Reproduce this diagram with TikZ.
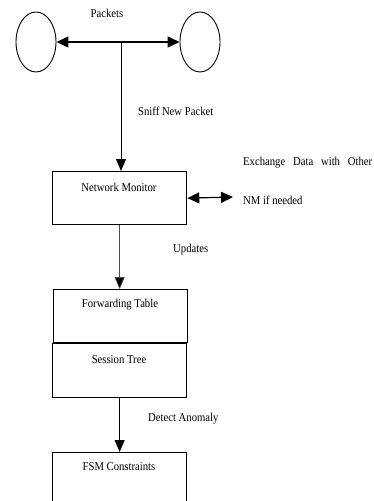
\documentclass[tikz,border=0pt]{standalone}
\usepackage{fontspec}
\setmainfont{Liberation Serif}[FakeStretch=0.89]
\usetikzlibrary{shapes.geometric,arrows.meta}
\begin{document}
\begin{tikzpicture}[x=1pt,y=-1pt,
  every node/.style={font=\fontsize{12}{14}\selectfont, inner sep=0pt},
  endpoint/.style={draw, line width=0.9pt, ellipse, minimum width=40pt, minimum height=60pt},
  blockbox/.style={draw, line width=1.3pt, rectangle, minimum width=134pt, minimum height=53pt, anchor=north west},
  flow/.style={line width=1pt, -{Triangle[length=12pt,width=10pt]}},
  thinflow/.style={line width=0.6pt, draw=black!70, -{Triangle[length=12pt,width=10pt,fill=black]}},
  both/.style={line width=1.2pt, {Triangle[length=12pt,width=11pt]}-{Triangle[length=12pt,width=11pt]}},
  lbl/.style={anchor=west}
]
\useasboundingbox (0,0) rectangle (374,501);
\clip (0,0) rectangle (374,501);
% endpoints
\node[endpoint] (l) at (36,42) {};
\node[endpoint] (r) at (200,42) {};
\draw[both] (l.east) -- (r.west);
\coordinate (j) at (121,42);
\node (pk) at (107,13) {Packets};
% boxes
\node[blockbox] (nm) at (52,171) {};
\node (nmt) at (119,187) {Network Monitor};
\node[blockbox] (ft) at (53,289) {};
\node (ftt) at (120,305) {Forwarding Table};
\node[blockbox, minimum height=54pt] (st) at (52,343) {};
\node (stt) at (119,360) {Session Tree};
\node[blockbox, minimum height=70pt] (fsm) at (52,452) {};
\node (fsmt) at (119,467) {FSM Constraints};
% connectors
\draw[flow] (j) -- (j |- nm.north);
\node[lbl] (sniff) at (138,111) {Sniff New Packet};
\coordinate (other) at (233,197);
\draw[both] (nm.east) -- (other);
\node[lbl] (ex) at (243,163) {\makebox[129pt][s]{Exchange Data with Other}};
\node[lbl] (nmn) at (243,200) {NM if needed};
\draw[thinflow] (nm.south) -- (ft.north -| nm.south);
\node[lbl] (upd) at (173,250) {Updates};
\draw[flow] (st.south) -- (fsm.north);
\node[lbl] (det) at (148,419) {Detect Anomaly};
\end{tikzpicture}
\end{document}
